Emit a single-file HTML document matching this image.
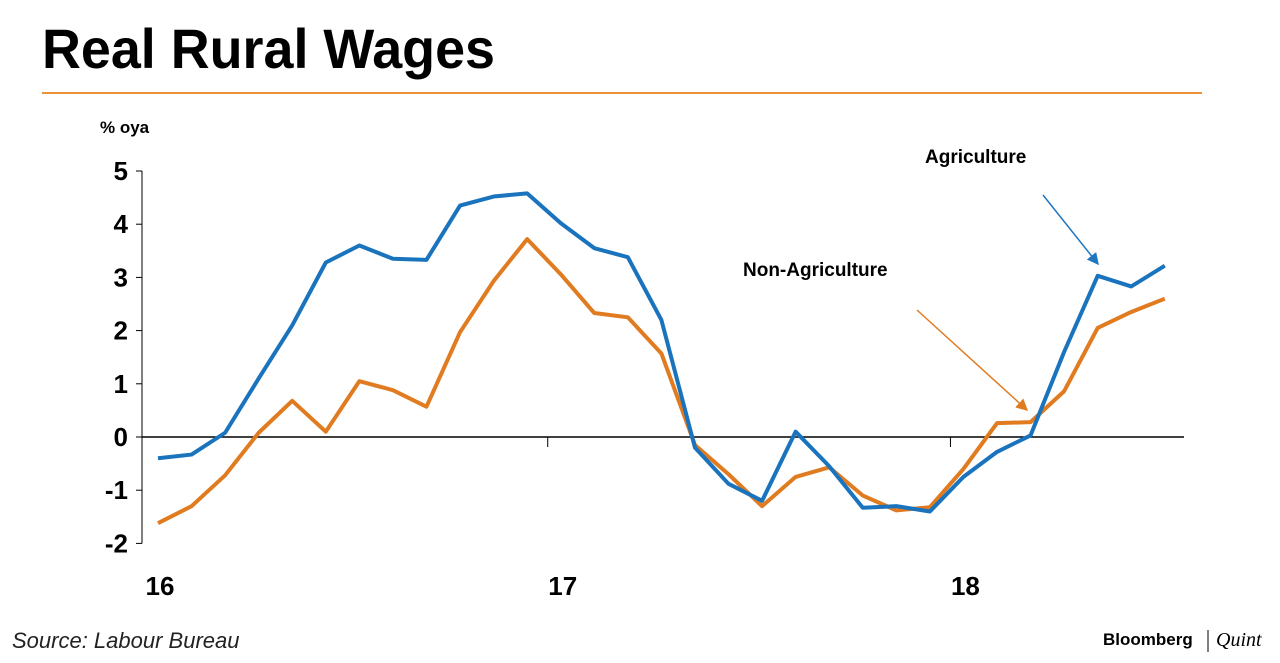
<!DOCTYPE html>
<html><head><meta charset="utf-8"><style>
body{margin:0;background:#fff;width:1280px;height:658px;overflow:hidden;font-family:"Liberation Sans Narrow","Liberation Sans",sans-serif}
</style></head><body>
<svg width="1280" height="658" xmlns="http://www.w3.org/2000/svg">
<text x="42" y="68" font-size="56" font-weight="bold" fill="#000" textLength="453" lengthAdjust="spacingAndGlyphs" font-family="Liberation Sans Narrow, Liberation Sans, sans-serif">Real Rural Wages</text>
<line x1="42" y1="93" x2="1202" y2="93" stroke="#e8923a" stroke-width="2"/>
<text x="100" y="133" font-size="17" font-weight="bold">% oya</text>
<g id="axes"></g>
<g id="series"></g>
<text x="925" y="163" font-size="19" font-weight="bold">Agriculture</text>
<text x="743" y="276" font-size="19" font-weight="bold">Non-Agriculture</text>
<defs>
<marker id="ab" markerWidth="8" markerHeight="8" refX="7" refY="4" orient="auto"><path d="M0,0L8,4L0,8z" fill="#1f77c0"/></marker>
<marker id="ao" markerWidth="8" markerHeight="8" refX="7" refY="4" orient="auto"><path d="M0,0L8,4L0,8z" fill="#e07b20"/></marker>
</defs>
<line x1="1043" y1="195" x2="1098" y2="264" stroke="#1f77c0" stroke-width="1.5" marker-end="url(#ab)"/>
<line x1="917" y1="310" x2="1027" y2="410" stroke="#e07b20" stroke-width="1.5" marker-end="url(#ao)"/>
<text x="12" y="648" font-size="22" font-style="italic" fill="#222" font-family="Liberation Sans, sans-serif">Source: Labour Bureau</text>
<text x="1103" y="645" font-size="17" font-weight="bold" font-family="Liberation Sans, sans-serif">Bloomberg</text>
<line x1="1208" y1="630" x2="1208" y2="652" stroke="#000" stroke-width="1"/>
<text x="1216" y="646" font-size="20" font-style="italic" font-family="Liberation Serif, serif">Quint</text>
</svg>
<script>
const agri=[-0.4,-0.33,0.08,1.1,2.1,3.28,3.6,3.35,3.33,4.35,4.52,4.58,4.02,3.55,3.38,2.2,-0.2,-0.88,-1.2,0.1,-0.55,-1.33,-1.3,-1.4,-0.75,-0.28,0.03,1.6,3.03,2.83,3.22];
const nonAgri=[-1.62,-1.3,-0.72,0.08,0.68,0.1,1.05,0.88,0.57,1.97,2.93,3.72,3.06,2.33,2.25,1.57,-0.15,-0.7,-1.3,-0.75,-0.57,-1.1,-1.38,-1.32,-0.6,0.26,0.28,0.86,2.05,2.35,2.6];
const yTicks=[5,4,3,2,1,0,-1,-2];
const xLabels=["16","17","18"];
const xLabelIdx=[0,12,24];
const NS="http://www.w3.org/2000/svg";
const xs=i=>158+i*33.56;
const ys=v=>437-v*53.2;
function mk(t,a,p){const e=document.createElementNS(NS,t);for(const k in a)e.setAttribute(k,a[k]);p.appendChild(e);return e;}
const ax=document.getElementById('axes');
const yl=mk('line',{x1:142,y1:ys(5),x2:142,y2:ys(-2),stroke:'#000','stroke-width':1},ax);


const xl=mk('line',{x1:142,y1:ys(0),x2:1184,y2:ys(0),stroke:'#000','stroke-width':1.5},ax);


yTicks.forEach(v=>{
 mk('line',{x1:136,y1:ys(v),x2:142,y2:ys(v),stroke:'#000'},ax);
 const t=mk('text',{x:128,y:ys(v)+9,'text-anchor':'end','font-size':26,'font-weight':'bold'},ax);
 t.textContent=v;
 
 
});
xLabels.forEach((l,k)=>{
 const x=xs(xLabelIdx[k])+2;
 if(k>0)mk('line',{x1:x-15,y1:ys(0),x2:x-15,y2:ys(0)+10,stroke:'#000'},ax);
 const t=mk('text',{x:x,y:595,'text-anchor':'middle','font-size':26,'font-weight':'bold'},ax);
 t.textContent=l;
 
 
});
const sg=document.getElementById('series');
function line(d,c,n){
 const p=mk('polyline',{points:d.map((v,i)=>xs(i)+','+ys(v)).join(' '),fill:'none',stroke:c,'stroke-width':4,'stroke-linejoin':'round'},sg);
 
 
}
line(nonAgri,'#e07b20','non-agriculture-line');
line(agri,'#1a73bd','agriculture-line');
</script>
</body></html>
